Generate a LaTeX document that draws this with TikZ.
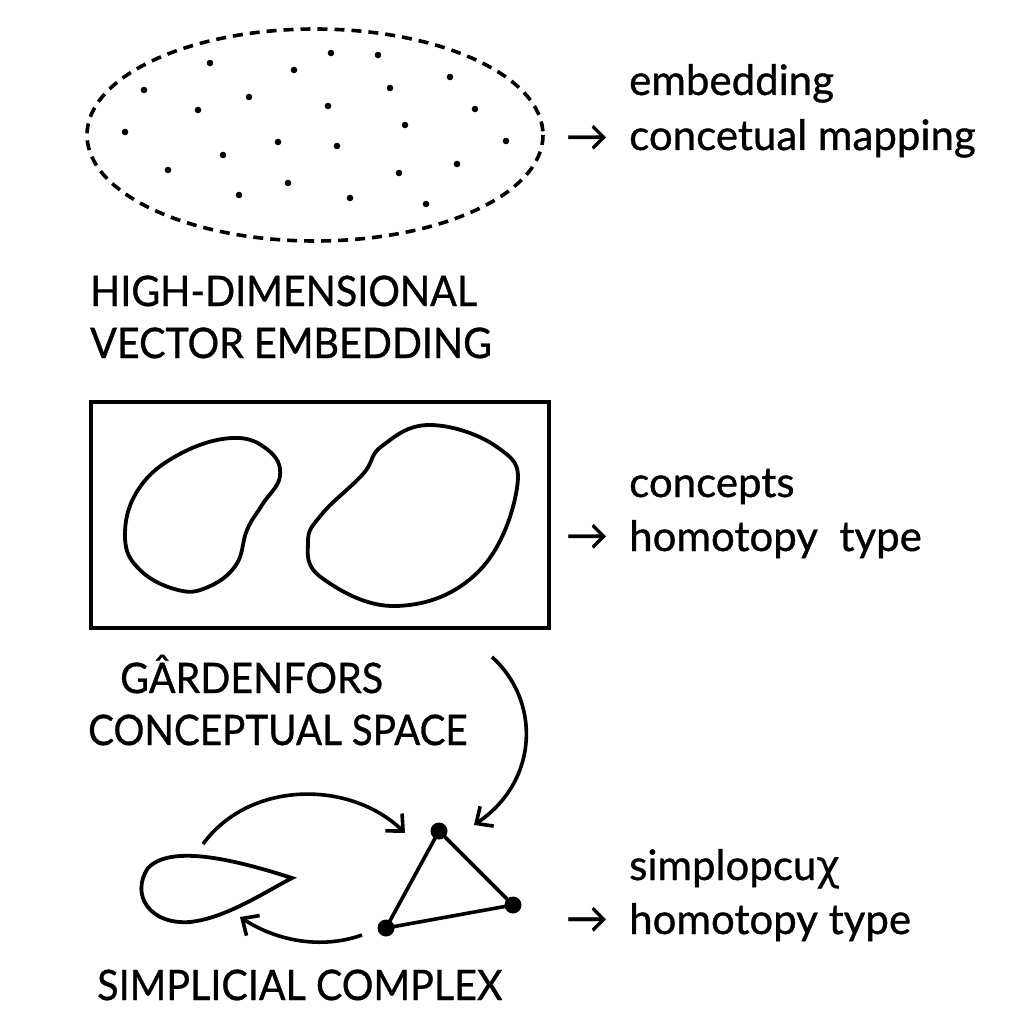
\documentclass[tikz,border=0pt]{standalone}
\usepackage{fontspec}
\setmainfont{Lato}[FakeBold=0.8]
\newfontfamily\dvs{DejaVu Sans}
\usetikzlibrary{arrows.meta}
\begin{document}
\begin{tikzpicture}[x=1pt,y=-1pt,
  capl/.style={font=\fontsize{42}{50}\selectfont, anchor=base west, inner sep=0pt},
  rlab/.style={font=\fontsize{42}{50}\selectfont, anchor=base west, inner sep=0pt},
  arr/.style={font=\fontsize{42}{50}\selectfont, inner sep=0pt},
  curve/.style={line width=3.6pt, -{Straight Barb[length=13pt,width=24pt,line width=3.6pt]}},
  blob/.style={line width=3.8pt},
  pt/.style={circle, fill=black, inner sep=0pt, minimum size=17pt}]
\useasboundingbox (0,0) rectangle (1024,1024);
\fill[white] (0,0) rectangle (1024,1024);
% ellipse
\draw[line width=3.6pt, dash pattern=on 10pt off 7pt] (315,135) ellipse [x radius=228, y radius=106];
\foreach \p in {(210,63),(331,53),(378,55),(294,70),(144,90),(249,97),(390,88),(450,77),(198,110),(328,106),(475,109),(125,132),(405,125),(278,142),(337,146),(506,141),(223,155),(168,170),(457,164),(399,173),(288,183),(239,195),(350,198),(426,204)}
  \fill \p circle (3.3);
\node[arr] (a1) at (587,138) {→};
\node[rlab] (t1a) at (629,95) {embedding};
\node[rlab] (t1b) at (629,150) {concetual mapping};
\node[capl] (l1a) at (90,306) {\scalebox{0.94}[1]{HIGH-DIMENSIONAL}};
\node[capl] (l1b) at (90,358) {\scalebox{0.94}[1]{VECTOR EMBEDDING}};
% box
\draw[line width=4pt] (91,402) rectangle (549,628);
\draw[blob] plot[smooth cycle, tension=0.7] coordinates {(232,438) (268,450) (280,476) (262,505) (247,530) (236,565) (208,587) (178,590) (140,570) (125,537) (138,490) (178,455)};
\draw[blob] plot[smooth cycle, tension=0.7] coordinates {(430,425) (382,446) (363,474) (322,514) (308,542) (322,578) (397,606) (478,572) (517,488) (497,447)};
\node[arr] (a2) at (587,537) {→};
\node[rlab] (t2a) at (629,497) {concepts};
\node[rlab] (t2b) at (629,551) {homotopy\ \ type};
\node[capl] (l2a) at (120,693) {\scalebox{0.94}[1]{GÂRDENFORS}};
\node[capl] (l2b) at (88,745) {\scalebox{0.92}[1]{CONCEPTUAL SPACE}};
% simplicial complex
\node[pt] (v1) at (439,831) {};
\node[pt] (v2) at (513,905) {};
\node[pt] (v3) at (386,928) {};
\draw[line width=3.6pt] (v1.center) -- (v2.center) -- (v3.center) -- cycle;
\draw[blob] (292,878) .. controls (230,858) and (170,845) .. (148,868) .. controls (130,895) and (150,925) .. (190,922) .. controls (225,918) and (260,895) .. (292,878) -- cycle;
\coordinate (s1) at (492,657);
\coordinate (e1) at (474,825);
\draw[curve] (s1) .. controls (540,700) and (540,780) .. (e1);
\coordinate (s2) at (203,844);
\coordinate (e2) at (405,833);
\draw[curve] (s2) .. controls (250,780) and (350,780) .. (e2);
\coordinate (s3) at (362,935);
\coordinate (e3) at (240,917);
\draw[curve] (s3) .. controls (320,950) and (275,940) .. (e3);
\node[arr] (a3) at (587,920) {→};
\node[rlab] (t3a) at (629,880) {simplopcu{\dvs χ}};
\node[rlab] (t3b) at (629,934) {homotopy type};
\node[capl] (l3) at (97,1000) {\scalebox{0.94}[1]{SIMPLICIAL COMPLEX}};
\end{tikzpicture}
\end{document}
